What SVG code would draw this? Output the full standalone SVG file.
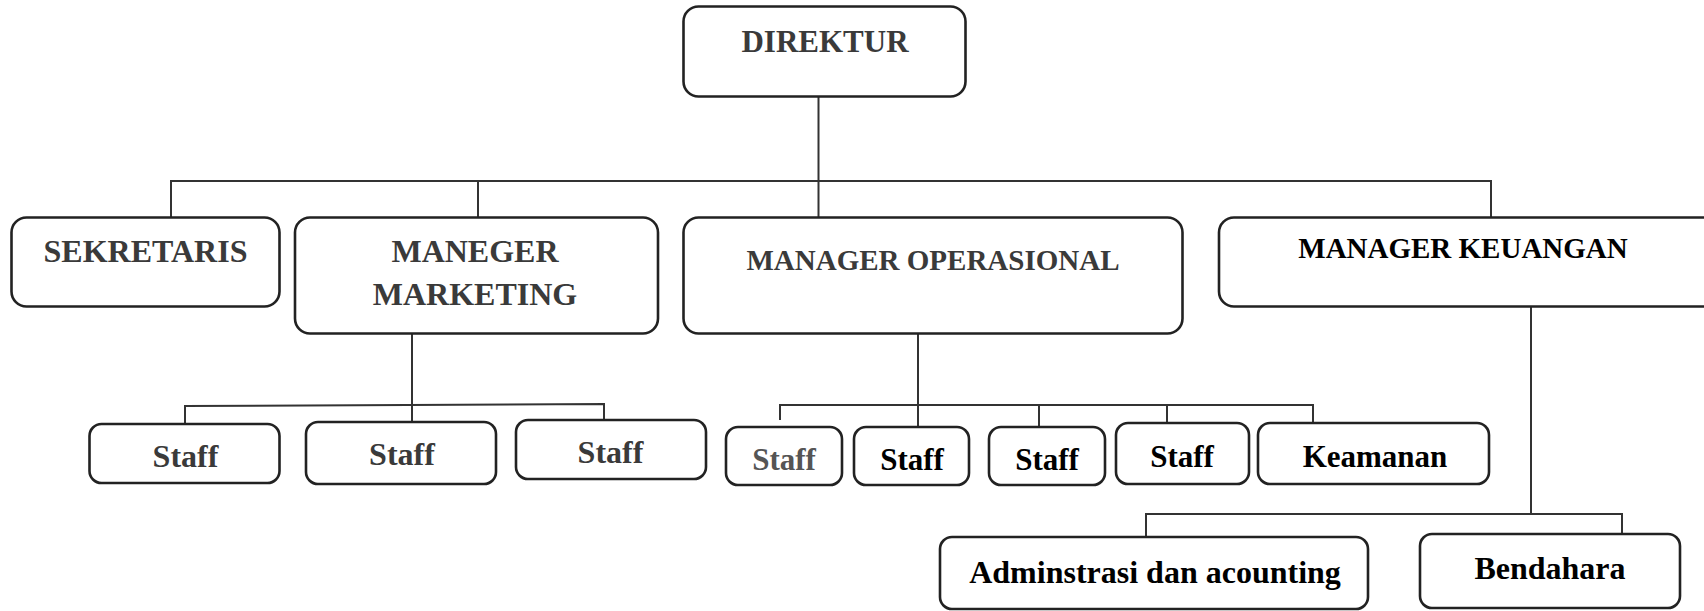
<svg xmlns="http://www.w3.org/2000/svg" width="1704" height="611" viewBox="0 0 1704 611">
<style>
.box{fill:#fff;stroke:#222;stroke-width:2.6}
.ln{fill:none;stroke:#333;stroke-width:2}
text{font-family:"Liberation Serif","Times New Roman",serif;font-weight:bold;text-anchor:middle}
.h{font-size:29px}
.hl{font-size:32px}
.s{font-size:32px}
.so{font-size:31px}
.g{fill:#3a3a3a}
.lg{fill:#555}
.k{fill:#000}
</style>
<rect width="1704" height="611" fill="#fff"/>
<g id="connectors">
<path class="ln" d="M818.5,97 V217"/>
<path class="ln" d="M171,217 V181 H1491 V217"/>
<path class="ln" d="M478,181 V217"/>
<path class="ln" d="M412,334 V422"/>
<path class="ln" d="M185,424 V406 L604,404 V420"/>
<path class="ln" d="M918,334 V427"/>
<path class="ln" d="M780,420 V405 H1313 V423"/>
<path class="ln" d="M1039,405 V427"/>
<path class="ln" d="M1167,405 V423"/>
<path class="ln" d="M1531,307 V514"/>
<path class="ln" d="M1146,537 V514 H1622 V534"/>
</g>
<g id="direktur"><rect class="box" x="683.5" y="6.5" width="282" height="90" rx="15"/><text class="g" style="font-size:31px" x="825" y="52">DIREKTUR</text></g>
<g id="sekretaris"><rect class="box" x="11.5" y="217.5" width="268" height="89" rx="15"/><text class="hl g" x="145.5" y="262">SEKRETARIS</text></g>
<g id="marketing"><rect class="box" x="295" y="217.5" width="363" height="116" rx="15"/><text class="hl g" x="475" y="262">MANEGER</text><text class="hl g" x="475" y="305">MARKETING</text></g>
<g id="operasional"><rect class="box" x="683.5" y="217.5" width="499" height="116" rx="15"/><text class="h g" x="933" y="270">MANAGER OPERASIONAL</text></g>
<g id="keuangan"><rect class="box" x="1219" y="217.5" width="500" height="89" rx="15"/><text class="h k" x="1463" y="258">MANAGER KEUANGAN</text></g>
<g id="staff-m1"><rect class="box" x="89.5" y="424" width="190" height="59" rx="12"/><text class="s g" x="185.5" y="467">Staff</text></g>
<g id="staff-m2"><rect class="box" x="306" y="422" width="190" height="62" rx="12"/><text class="s g" x="402" y="465">Staff</text></g>
<g id="staff-m3"><rect class="box" x="516" y="420" width="190" height="59" rx="12"/><text class="s g" x="610.5" y="463">Staff</text></g>
<g id="staff-o1"><rect class="box" x="726" y="427" width="116" height="58" rx="12"/><text class="so lg" x="784" y="470">Staff</text></g>
<g id="staff-o2"><rect class="box" x="854" y="427" width="115" height="58" rx="12"/><text class="so k" x="912" y="470">Staff</text></g>
<g id="staff-o3"><rect class="box" x="989" y="427" width="116" height="58" rx="12"/><text class="so k" x="1047" y="470">Staff</text></g>
<g id="staff-o4"><rect class="box" x="1116" y="423" width="133" height="61" rx="12"/><text class="so k" x="1182" y="467">Staff</text></g>
<g id="keamanan"><rect class="box" x="1258" y="423" width="231" height="61" rx="12"/><text class="so k" x="1375" y="467">Keamanan</text></g>
<g id="administrasi"><rect class="box" x="940" y="537" width="428" height="72" rx="12"/><text class="s k" x="1155" y="583">Adminstrasi dan acounting</text></g>
<g id="bendahara"><rect class="box" x="1420" y="534" width="260" height="74" rx="12"/><text class="s k" x="1550" y="579">Bendahara</text></g>
</svg>
